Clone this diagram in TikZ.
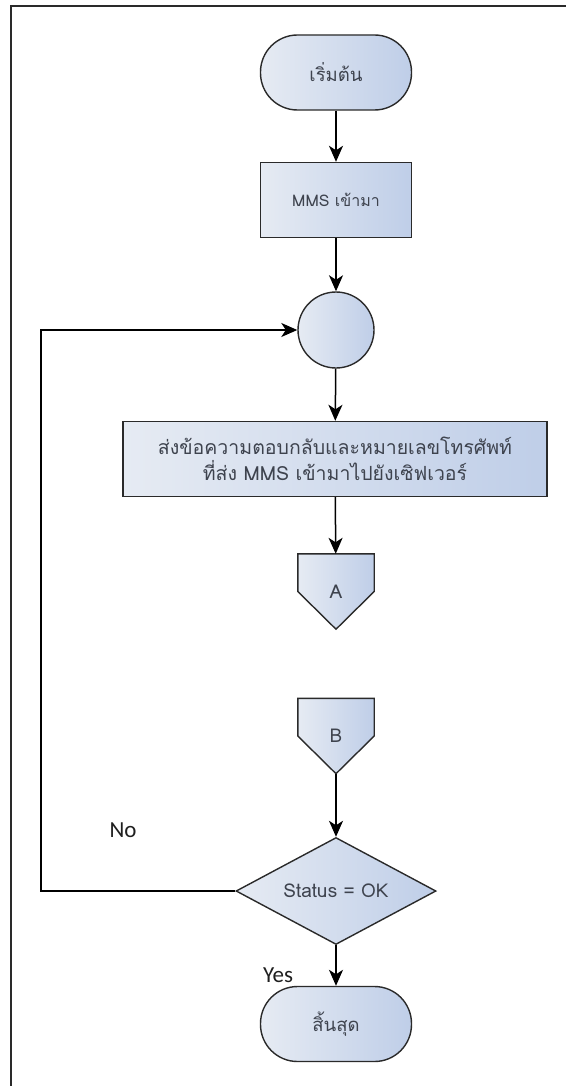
\documentclass[tikz,border=0pt]{standalone}
\usepackage{fontspec}
\newfontfamily\thaifont[Script=Thai]{Loma}
\newfontfamily\labelfont{Carlito}
\usetikzlibrary{shapes.geometric,arrows.meta}
\pgfdeclarelayer{bg}
\pgfsetlayers{bg,main}
\definecolor{shadeL}{HTML}{E6EBF3}
\definecolor{shadeR}{HTML}{BFCEE8}
\definecolor{edgegray}{HTML}{2A2A2A}
\definecolor{txtgray}{HTML}{3E434E}
\newcommand\txtsize[1]{\thaifont\fontsize{#1}{26}\selectfont}
\begin{document}
\begin{tikzpicture}[x=1pt,y=-1pt,
  box/.style={draw=edgegray, line width=1.4pt, left color=shadeL, right color=shadeR,
    font=\txtsize{18.5}, text=txtgray, align=center, inner sep=0pt},
  terminal/.style={box, rectangle, rounded corners=37pt, minimum width=151pt, minimum height=75pt},
  process/.style={box, rectangle, minimum height=75pt},
  junction/.style={box, circle, minimum size=76pt},
  decision/.style={box, diamond, shape aspect=1.87, minimum width=200pt, minimum height=107pt},
  offpage/.style={font=\txtsize{19}, text=txtgray,
    minimum width=76pt, minimum height=75pt, inner sep=0pt},
  offshape/.style={draw=edgegray, line width=1.4pt, left color=shadeL, right color=shadeR},
  arr/.style={draw=black, line width=1.5pt, -{Stealth[length=16pt,width=14pt,inset=4.5pt]}},
  branch/.style={font=\labelfont\fontsize{23}{23}\selectfont, text=black!88}
]
\useasboundingbox (0,0) rectangle (566,1086);
% page frame
\draw[line width=2pt, edgegray] (11,1086) -- (11,6) -- (566,6);

% flow nodes
\node[terminal] (start) at (336,72.5) {เริ่มต้น};
\node[process, minimum width=151pt, font=\txtsize{16}] (mms) at (336,200) {MMS เข้ามา};
\node[junction] (conn) at (336,330) {};
\node[process, minimum width=424pt, font=\txtsize{19.5}] (send) at (335,459)
  {ส่งข้อความตอบกลับและหมายเลขโทรศัพท์\\ที่ส่ง MMS เข้ามาไปยังเซิฟเวอร์};
\node[offpage] (A) at (336,591.5) {A};
\node[offpage] (B) at (336,736) {B};
\node[decision, font=\txtsize{19}] (dec) at (336,891) {Status = OK};
\node[terminal] (stop) at (336,1024) {สิ้นสุด};

% off-page connector outlines
\begin{pgfonlayer}{bg}
\path[offshape] (A.north west) -- (A.north east) -- (A.east) -- (A.south) -- (A.west) -- cycle;
\path[offshape] (B.north west) -- (B.north east) -- (B.east) -- (B.south) -- (B.west) -- cycle;
\end{pgfonlayer}

% branch labels
\node[branch] (no) at (123,830) {No};
\node[branch] (yes) at (278,975) {Yes};

% connectors
\coordinate (loopcorner) at (41,891);
\draw[arr] (start) -- (mms);
\draw[arr] (mms) -- (conn);
\draw[arr] (conn) -- (send);
\draw[arr] (send) -- (A);
\draw[arr] (B) -- (dec);
\draw[arr] (dec) -- (stop);
\draw[arr] (dec.west) -- (loopcorner) |- (conn);
\end{tikzpicture}
\end{document}
